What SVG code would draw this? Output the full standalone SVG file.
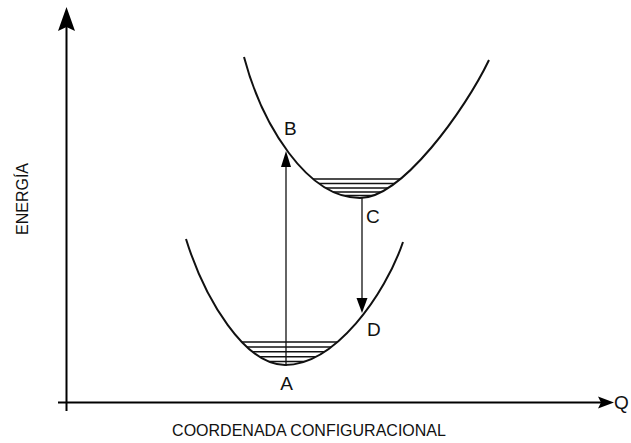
<svg xmlns="http://www.w3.org/2000/svg" width="631" height="443" viewBox="0 0 631 443">
<style>
.axis{stroke:#000;stroke-width:2;fill:none}
.curve{stroke:#111;stroke-width:2;fill:none}
.arr{stroke:#111;stroke-width:1.3;fill:none}
.hatch{stroke:#111;stroke-width:1.4}
.lbl{font-family:"Liberation Sans",Arial,sans-serif;font-size:19px;fill:#111}
.ax{font-family:"Liberation Sans",Arial,sans-serif;font-size:16px;fill:#111}
</style>
<defs>
<clipPath id="cu"><path d="M244,57 C262,125 307,198 360,198 C402,198 465,110 489,60 Z"/></clipPath>
<clipPath id="cl"><path d="M186,239 C205,300 245,365 285,365 C335,365 385,295 403,242 Z"/></clipPath>
</defs>
<rect width="631" height="443" fill="#fff"/>
<g id="axes">
<line class="axis" x1="66.5" y1="411" x2="66.5" y2="26"/>
<path d="M66.5,7 L75,31 L66.5,27 L58,31 Z" fill="#000"/>
<line class="axis" x1="58" y1="402.5" x2="602" y2="402.5"/>
<path d="M614,402.5 L598,396.5 L601,402.5 L598,408.5 Z" fill="#000"/>
<text class="ax" transform="translate(28,199) rotate(-90)" text-anchor="middle">ENERGÍA</text>
<text class="ax" x="309" y="436" text-anchor="middle">COORDENADA CONFIGURACIONAL</text>
<text class="lbl" x="614" y="409">Q</text>
</g>
<g id="upper">
<path class="curve" d="M244,57 C262,125 307,198 360,198 C402,198 465,110 489,60"/>
<g clip-path="url(#cu)" class="hatch">
<line x1="280" y1="179" x2="440" y2="179"/>
<line x1="280" y1="183.5" x2="440" y2="183.5"/>
<line x1="280" y1="188" x2="440" y2="188"/>
<line x1="280" y1="192" x2="440" y2="192"/>
<line x1="280" y1="195.5" x2="440" y2="195.5"/>
</g>
<text class="lbl" x="284" y="135">B</text>
<text class="lbl" x="366" y="223">C</text>
</g>
<g id="lower">
<path class="curve" d="M186,239 C205,300 245,365 285,365 C335,365 385,295 403,242"/>
<g clip-path="url(#cl)" class="hatch">
<line x1="200" y1="342" x2="380" y2="342"/>
<line x1="200" y1="347" x2="380" y2="347"/>
<line x1="200" y1="351.7" x2="380" y2="351.7"/>
<line x1="200" y1="356.7" x2="380" y2="356.7"/>
<line x1="200" y1="361.5" x2="380" y2="361.5"/>
</g>
<text class="lbl" x="286.5" y="390" text-anchor="middle">A</text>
<text class="lbl" x="367" y="336">D</text>
</g>
<g id="connectors">
<line class="arr" x1="286" y1="366" x2="286" y2="165"/>
<path d="M286,151 L291,167 L281,167 Z" fill="#000"/>
<line class="arr" x1="362" y1="198" x2="362" y2="300"/>
<path d="M362,313 L356.5,298 L367.5,298 Z" fill="#000"/>
</g>
</svg>
